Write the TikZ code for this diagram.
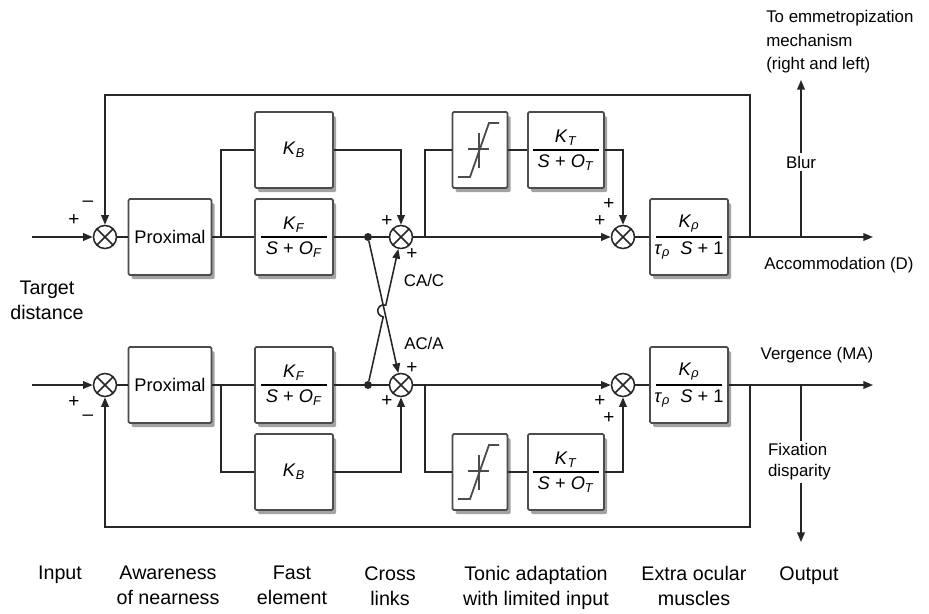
\documentclass[tikz,border=0pt]{standalone}
\usepackage{amsmath}
\usepackage{fontspec}
\setmainfont{Liberation Sans}
\usetikzlibrary{arrows.meta, positioning, shadows, calc}

\newcommand{\gvar}[2]{\textit{#1}\textsubscript{\textit{#2}}}
\newcommand{\gainfrac}[2]{$\genfrac{}{}{0.9pt}{0}{\mbox{#1}}{\makebox[1.65cm]{#2}}$}

\tikzset{
  blockbox/.style={draw=black!70, line width=1.2pt, fill=white, rounded corners=1pt,
    minimum width=1.95cm, minimum height=1.9cm, inner sep=1pt,
    font=\fontsize{13}{15}\selectfont,
    drop shadow={shadow xshift=2.2pt, shadow yshift=-3pt, opacity=0.6, fill=black!60}},
  satbox/.style={blockbox, minimum width=1.375cm, path picture={
    \coordinate (satc) at (path picture bounding box.center);
    \draw[line width=1pt, sharp corners] ([shift={(-0.3cm,0.025cm)}]satc) -- ([shift={(0.225cm,0.025cm)}]satc)
      ([shift={(-0.025cm,0.425cm)}]satc) -- ([shift={(-0.025cm,-0.45cm)}]satc);
    \draw[line width=1.3pt, sharp corners] ([shift={(-0.55cm,-0.675cm)}]satc) -- ++(0.3cm,0)
      -- ++(0.475cm,1.35cm) -- ++(0.25cm,0);}},
  sumnode/.style={circle, draw=black!85, line width=1.1pt, fill=white,
    minimum size=0.575cm, inner sep=0pt, path picture={
    \draw[line width=1.1pt] (path picture bounding box.north west) -- (path picture bounding box.south east)
      (path picture bounding box.north east) -- (path picture bounding box.south west);}},
  link/.style={draw=black!85, line width=1.1pt},
  arr/.style={link, -{Triangle[length=2.4mm, width=1.9mm]}},
  dotnode/.style={circle, fill=black!85, inner sep=0pt, minimum size=0.2cm},
  sign/.style={font=\fontsize{13.5}{15}\selectfont, inner sep=0pt},
  lbl/.style={font=\fontsize{12}{15}\selectfont, inner sep=1pt},
  caption/.style={font=\fontsize{14}{17.8}\selectfont, align=center, inner sep=0pt}
}

\begin{document}
\begin{tikzpicture}[x=0.025cm, y=-0.025cm]
  \fill[white] (0,0) rectangle (929,613);
  \useasboundingbox (0,0) rectangle (929,613);

  % the two channels: A accommodation (branches above), B vergence (branches below)
  \foreach \row/\y/\side in {A/237/-1, B/385/1} {
    \node[sumnode] (sum1\row) at (105,\y) {};
    \node[blockbox, minimum width=2.075cm] (prox\row) at (170,\y) {Proximal};
    \node[blockbox] (kf\row) at (294,\y) {\gainfrac{\gvar{K}{F}}{\textit{S} + \gvar{O}{F}}};
    \node[blockbox] (kb\row) at (294,{\y+(\side)*87}) {\gvar{K}{B}};
    \node[sumnode] (sum2\row) at (401,\y) {};
    \node[satbox] (sat\row) at (480,{\y+(\side)*87}) {};
    \node[blockbox, minimum width=1.9cm] (kt\row) at (566,{\y+(\side)*87}) {\gainfrac{\gvar{K}{T}}{\textit{S} + \gvar{O}{T}}};
    \node[sumnode] (sum3\row) at (623,\y) {};
    \node[blockbox] (kp\row) at (689,\y) {\gainfrac{\gvar{K}{ρ}}{\gvar{τ}{ρ}\ \ \textit{S} + 1}};

    \coordinate (in\row) at (32,\y);
    \coordinate (br\row) at (221,\y);
    \coordinate (tap\row) at (425,\y);
    \coordinate (fb\row) at (750,\y);
    \coordinate (fbc\row) at (750,{\y+(\side)*142});
    \coordinate (obs\row) at (801,\y);
    \coordinate (obsend\row) at (801,{\y+(\side)*157});
    \coordinate (out\row) at (873,\y);

    \draw[arr] (in\row) -- (sum1\row);
    \draw[link] (sum1\row) -- (prox\row) -- (kf\row) -- (sum2\row);
    \draw[link] (br\row) |- (kb\row);
    \draw[arr] (kb\row) -| (sum2\row);
    \draw[arr] (sum2\row) -- (sum3\row);
    \draw[link] (tap\row) |- (sat\row);
    \draw[link] (sat\row) -- (kt\row);
    \draw[arr] (kt\row) -| (sum3\row);
    \draw[link] (sum3\row) -- (kp\row);
    \draw[arr] (kp\row) -- (out\row);
    \draw[arr] (fb\row) -- (fbc\row) -| (sum1\row);
    \draw[arr] (obs\row) -- (obsend\row);
    \node[dotnode] (dot\row) at (368,\y) {};

    \node[sign] (pin\row) at (74,{\y+(\side)*17}) {+};
    \node[sign] (min\row) at (88,{\y+(\side)*33}) {–};
    \node[sign] (pkb\row) at (387,{\y+(\side)*16}) {+};
    \node[sign] (pcr\row) at (412,{\y-(\side)*17}) {+};
    \node[sign] (pmn\row) at (600,{\y+(\side)*16}) {+};
    \node[sign] (pkt\row) at (609,{\y+(\side)*33}) {+};
  }

  % cross links, CA/C hops over AC/A
  \coordinate (hopIn) at (383.2,316.9);
  \coordinate (hopOut) at (385.8,305.1);
  \draw[arr] (dotA) -- (sum2B);
  \draw[arr] (dotB) -- (hopIn) .. controls +(-8.8,-2) and +(-8.8,-2) .. (hopOut) -- (sum2A);
  \node[lbl] (cac) at (424,280) {CA/C};
  \node[lbl] (aca) at (424,343) {AC/A};

  \node[caption] (target) at (47,300) {Target\\distance};
  \node[lbl, anchor=west, align=left, inner sep=0pt, font=\fontsize{12}{16.7}\selectfont] (emm) at (766,42)
    {To emmetropization\\mechanism\\(right and left)};
  \node[lbl, fill=white, inner sep=2pt] (blur) at (801,162) {Blur};
  \node[lbl] (accom) at (839,265) {Accommodation (D)};
  \node[lbl] (verg) at (817,355) {Vergence (MA)};
  \node[lbl, anchor=west, align=left, fill=white, inner sep=2pt] (fix) at (765,462) {Fixation\\disparity};

  \foreach \x/\t [count=\i] in {60/Input, 168/Awareness\\of nearness, 292/Fast\\element,
      390/Cross\\links, 536/Tonic adaptation\\with limited input, 694/Extra ocular\\muscles, 809/Output}
    \node[caption, anchor=north] (cap\i) at (\x,566) {\t};
\end{tikzpicture}
\end{document}
